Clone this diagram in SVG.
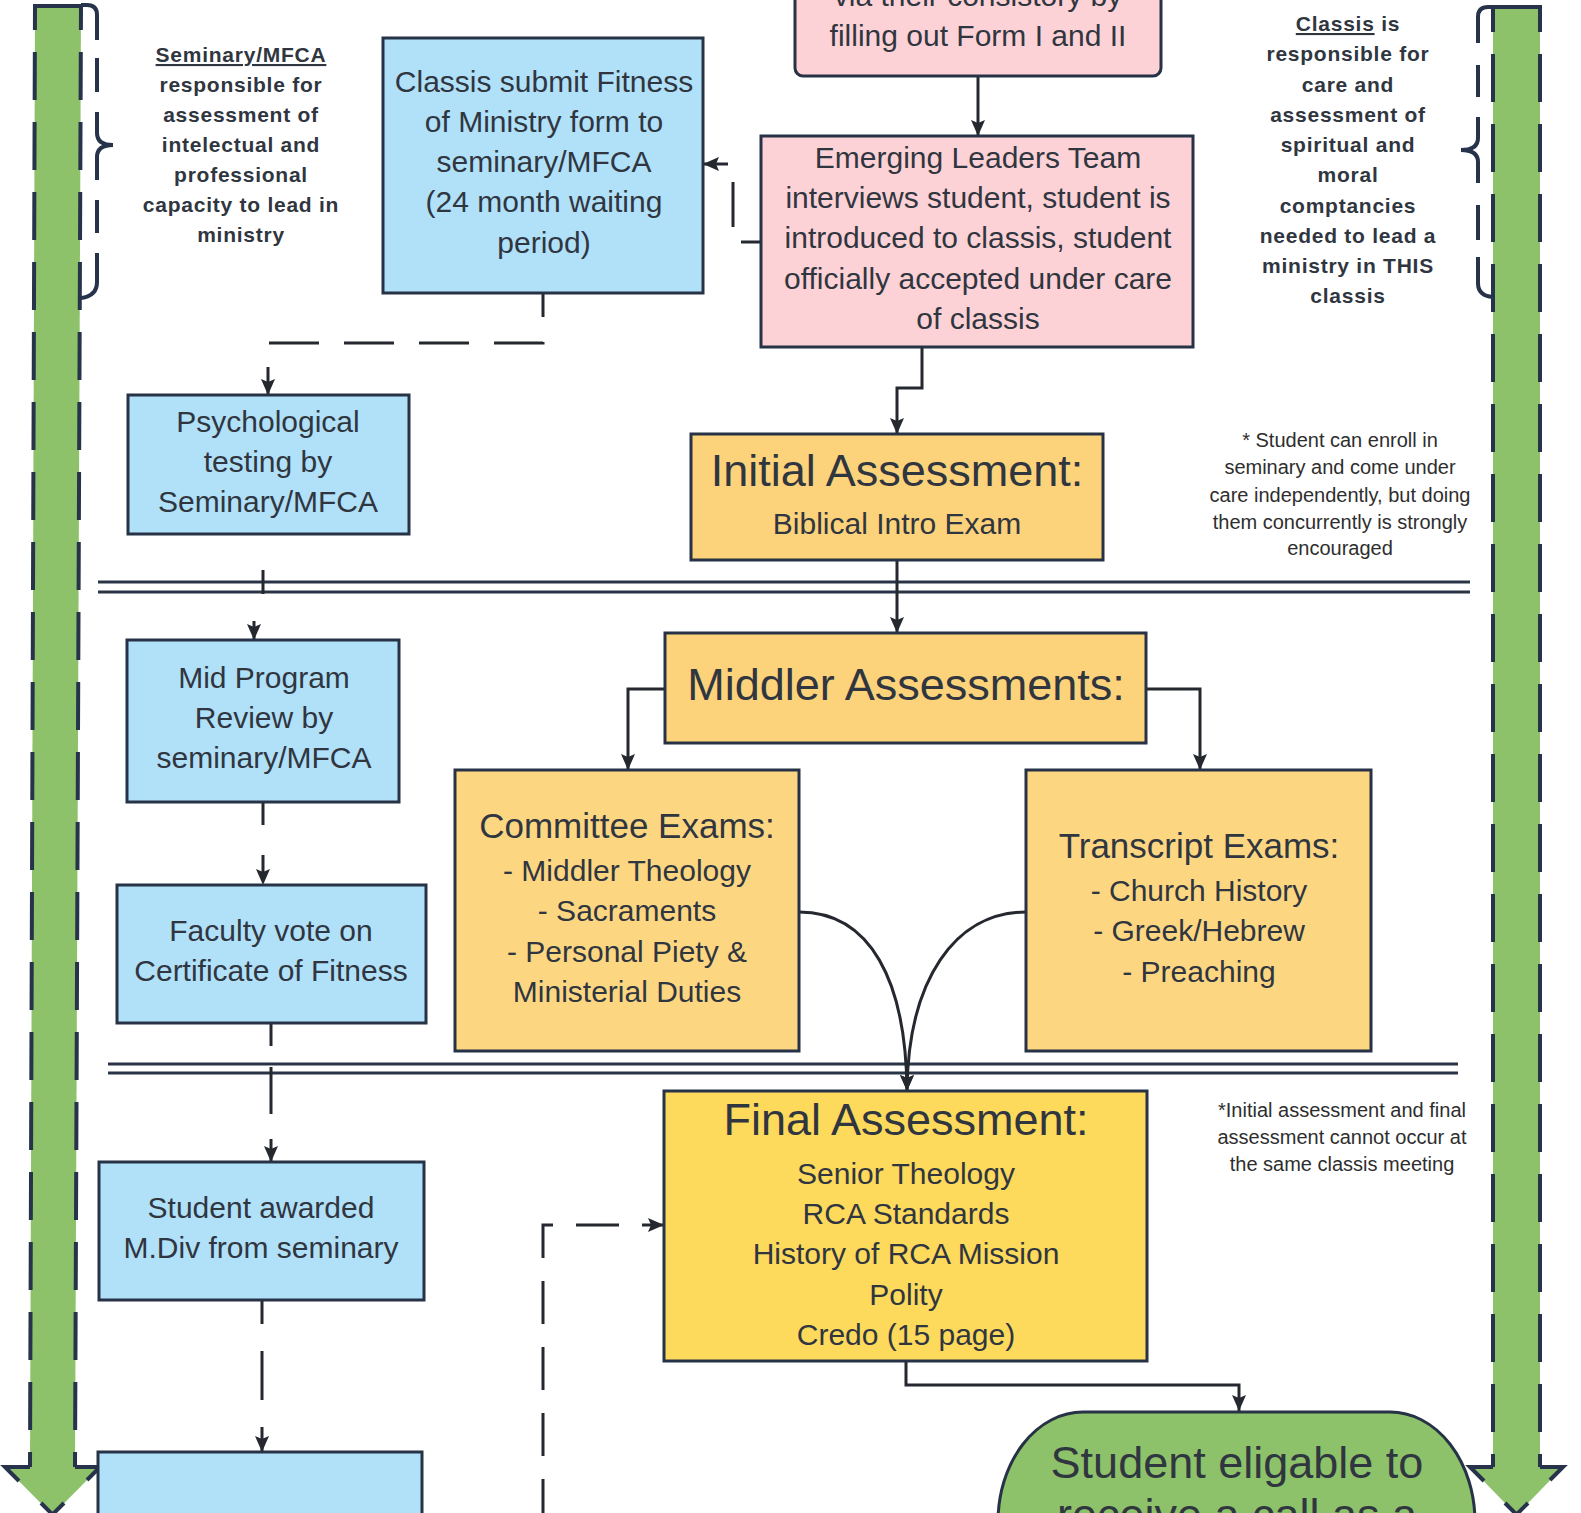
<svg xmlns="http://www.w3.org/2000/svg" width="1581" height="1513" viewBox="0 0 1581 1513">
<style>
.t{font-family:"Liberation Sans",Arial,sans-serif;fill:#30363f;text-anchor:middle}
.n{font-size:30px}
.h{font-size:45px}
.s{font-size:35px}
.a{font-size:21px;font-weight:bold;letter-spacing:0.75px}
.note{font-size:20px;fill:#2e2e2e}
.box{stroke:#273246;stroke-width:3}
.pink{fill:#fdd2d6}
.blue{fill:#b1e0f9}
.orange{fill:#fcd27b}
.orange2{fill:#fdd682}
.yellow{fill:#fdd95c}
.green{fill:#8dc26a}
.edge{fill:none;stroke:#26334a;stroke-width:4}
.dash{stroke-dasharray:48 22;stroke-dashoffset:23}
.con{fill:none;stroke:#25282e;stroke-width:3}
.sep{stroke:#2a3447;stroke-width:3}
</style>
<defs>
<marker id="ah" markerUnits="userSpaceOnUse" markerWidth="18" markerHeight="18" refX="16" refY="9" orient="auto">
<path d="M0,2 L16,9 L0,16 L3,9 z" fill="#25282e"/>
</marker>
</defs>

<g id="seminary-track">
<polygon class="green" points="35,5 81,5 75,1467 30,1467"/>
<polygon class="green" points="5,1467 100,1467 52.5,1515"/>
<path class="edge dash" d="M35 5 L30 1467"/>
<path class="edge dash" d="M81 5 L75 1467"/>
<path class="edge" d="M33 6 H81"/>
<path class="edge" d="M30 1467 H5 L19 1481 M75 1467 H100 L87 1480 M41 1503 L52.5 1514.5 L64 1503"/>
<path class="edge" d="M81 5 H87 Q97 5 97 15 V40 M97 58 V92 M97 112 V133 Q97 145 113 145 Q97 145 97 157 V180 M97 200 V233 M97 253 V282 Q97 296 81 298"/>
</g>

<g id="classis-track">
<polygon class="green" points="1493,7 1540,7 1540,1467 1493,1467"/>
<polygon class="green" points="1470,1467 1563,1467 1516.5,1515"/>
<path class="edge dash" d="M1493 7 V1467"/>
<path class="edge dash" d="M1540 7 V1467"/>
<path class="edge" d="M1493 7 H1542"/>
<path class="edge" d="M1493 1467 H1470 L1484 1481 M1540 1467 H1563 L1550 1480 M1505 1503 L1516.5 1514.5 L1528 1503"/>
<path class="edge" d="M1493 7 H1488 Q1478 7 1478 17 V43 M1478 65 V97 M1478 117 V138 Q1478 150 1461 150 Q1478 150 1478 162 V183 M1478 205 V240 M1478 257 V283 Q1478 296 1493 297"/>
</g>

<g id="separators">
<path class="sep" d="M98 582 H1470 M98 592 H1470"/>
<path class="sep" d="M108 1064 H1458 M108 1073 H1458"/>
</g>

<g id="connectors">
<path class="con" d="M978 76 V136" marker-end="url(#ah)"/>
<path class="con" d="M922 347 V388 H897 V434" marker-end="url(#ah)"/>
<path class="con" d="M761 242 H733 V164 H703" stroke-dasharray="45 23" stroke-dashoffset="25" marker-end="url(#ah)"/>
<path class="con" d="M543 293 V343 H268 V395" stroke-dasharray="50 25" stroke-dashoffset="26" marker-end="url(#ah)"/>
<path class="con" d="M263 534 V605 H254 V640" stroke-dasharray="24 36" stroke-dashoffset="24" marker-end="url(#ah)"/>
<path class="con" d="M263 802 V885" stroke-dasharray="23 30" marker-end="url(#ah)"/>
<path class="con" d="M271 1023 V1162" stroke-dasharray="23 21 47 25 30" marker-end="url(#ah)"/>
<path class="con" d="M262 1300 V1452" stroke-dasharray="24 27 49 27 30" marker-end="url(#ah)"/>
<path class="con" d="M897 560 V633" marker-end="url(#ah)"/>
<path class="con" d="M665 689 H628 V770" marker-end="url(#ah)"/>
<path class="con" d="M1146 689 H1200 V770" marker-end="url(#ah)"/>
<path class="con" d="M799 912 C870 912 906 980 907 1091" marker-end="url(#ah)"/>
<path class="con" d="M1026 912 C955 912 908 980 907 1091" marker-end="url(#ah)"/>
<path class="con" d="M543 1530 V1225 H664" stroke-dasharray="43 23" stroke-dashoffset="58" marker-end="url(#ah)"/>
<path class="con" d="M906 1361 V1385 H1239 V1411" marker-end="url(#ah)"/>
</g>

<g id="note-seminary">
<text class="t a"><tspan x="241" y="62" text-decoration="underline">Seminary/MFCA</tspan><tspan x="241" y="92">responsible for</tspan><tspan x="241" y="122">assessment of</tspan><tspan x="241" y="152">intelectual and</tspan><tspan x="241" y="182">professional</tspan><tspan x="241" y="212">capacity to lead in</tspan><tspan x="241" y="242">ministry</tspan></text>
</g>

<g id="note-classis">
<text class="t a"><tspan x="1348" y="31"><tspan text-decoration="underline">Classis</tspan> is</tspan><tspan x="1348" y="61">responsible for</tspan><tspan x="1348" y="92">care and</tspan><tspan x="1348" y="122">assessment of</tspan><tspan x="1348" y="152">spiritual and</tspan><tspan x="1348" y="182">moral</tspan><tspan x="1348" y="213">comptancies</tspan><tspan x="1348" y="243">needed to lead a</tspan><tspan x="1348" y="273">ministry in THIS</tspan><tspan x="1348" y="303">classis</tspan></text>
</g>

<g id="note-enroll">
<text class="t note"><tspan x="1340" y="447">* Student can enroll in</tspan><tspan x="1340" y="474">seminary and come under</tspan><tspan x="1340" y="502">care independently, but doing</tspan><tspan x="1340" y="529">them concurrently is strongly</tspan><tspan x="1340" y="555">encouraged</tspan></text>
</g>

<g id="note-meeting">
<text class="t note"><tspan x="1342" y="1117">*Initial assessment and final</tspan><tspan x="1342" y="1144">assessment cannot occur at</tspan><tspan x="1342" y="1171">the same classis meeting</tspan></text>
</g>

<g id="node-consistory">
<rect class="box pink" x="795" y="-20" width="366" height="96" rx="8"/>
<text class="t n"><tspan x="978" y="6">via their consistory by</tspan><tspan x="978" y="46">filling out Form I and II</tspan></text>
</g>

<g id="node-emerging">
<rect class="box pink" x="761" y="136" width="432" height="211"/>
<text class="t n"><tspan x="978" y="168">Emerging Leaders Team</tspan><tspan x="978" y="208">interviews student, student is</tspan><tspan x="978" y="248">introduced to classis, student</tspan><tspan x="978" y="289">officially accepted under care</tspan><tspan x="978" y="329">of classis</tspan></text>
</g>

<g id="node-fitness-form">
<rect class="box blue" x="383" y="38" width="320" height="255"/>
<text class="t n"><tspan x="544" y="92">Classis submit Fitness</tspan><tspan x="544" y="132">of Ministry form to</tspan><tspan x="544" y="172">seminary/MFCA</tspan><tspan x="544" y="212">(24 month waiting</tspan><tspan x="544" y="253">period)</tspan></text>
</g>

<g id="node-psych">
<rect class="box blue" x="128" y="395" width="281" height="139"/>
<text class="t n"><tspan x="268" y="432">Psychological</tspan><tspan x="268" y="472">testing by</tspan><tspan x="268" y="512">Seminary/MFCA</tspan></text>
</g>

<g id="node-initial">
<rect class="box orange" x="691" y="434" width="412" height="126"/>
<text class="t"><tspan class="h" x="897" y="486">Initial Assessment:</tspan><tspan class="n" x="897" y="534">Biblical Intro Exam</tspan></text>
</g>

<g id="node-middler">
<rect class="box orange" x="665" y="633" width="481" height="110"/>
<text class="t h" x="906" y="700">Middler Assessments:</text>
</g>

<g id="node-committee">
<rect class="box orange2" x="455" y="770" width="344" height="281"/>
<text class="t"><tspan class="s" x="627" y="838">Committee Exams:</tspan><tspan class="n" x="627" y="881">- Middler Theology</tspan><tspan class="n" x="627" y="921">- Sacraments</tspan><tspan class="n" x="627" y="962">- Personal Piety &amp;</tspan><tspan class="n" x="627" y="1002">Ministerial Duties</tspan></text>
</g>

<g id="node-transcript">
<rect class="box orange2" x="1026" y="770" width="345" height="281"/>
<text class="t"><tspan class="s" x="1199" y="858">Transcript Exams:</tspan><tspan class="n" x="1199" y="901">- Church History</tspan><tspan class="n" x="1199" y="941">- Greek/Hebrew</tspan><tspan class="n" x="1199" y="982">- Preaching</tspan></text>
</g>

<g id="node-final">
<rect class="box yellow" x="664" y="1091" width="483" height="270"/>
<text class="t"><tspan class="h" x="906" y="1135">Final Assessment:</tspan><tspan class="n" x="906" y="1184">Senior Theology</tspan><tspan class="n" x="906" y="1224">RCA Standards</tspan><tspan class="n" x="906" y="1264">History of RCA Mission</tspan><tspan class="n" x="906" y="1305">Polity</tspan><tspan class="n" x="906" y="1345">Credo (15 page)</tspan></text>
</g>

<g id="node-midprogram">
<rect class="box blue" x="127" y="640" width="272" height="162"/>
<text class="t n"><tspan x="264" y="688">Mid Program</tspan><tspan x="264" y="728">Review by</tspan><tspan x="264" y="768">seminary/MFCA</tspan></text>
</g>

<g id="node-faculty">
<rect class="box blue" x="117" y="885" width="309" height="138"/>
<text class="t n"><tspan x="271" y="941">Faculty vote on</tspan><tspan x="271" y="981">Certificate of Fitness</tspan></text>
</g>

<g id="node-mdiv">
<rect class="box blue" x="99" y="1162" width="325" height="138"/>
<text class="t n"><tspan x="261" y="1218">Student awarded</tspan><tspan x="261" y="1258">M.Div from seminary</tspan></text>
</g>

<g id="node-bottom-blue">
<rect class="box blue" x="98" y="1452" width="324" height="80"/>
</g>

<g id="node-eligible">
<path class="box green" d="M998 1535 V1522 A85 110 0 0 1 1083 1412 H1390 A85 110 0 0 1 1475 1522 V1535"/>
<text class="t h"><tspan x="1237" y="1478">Student eligable to</tspan><tspan x="1237" y="1530">receive a call as a</tspan></text>
</g>
</svg>
